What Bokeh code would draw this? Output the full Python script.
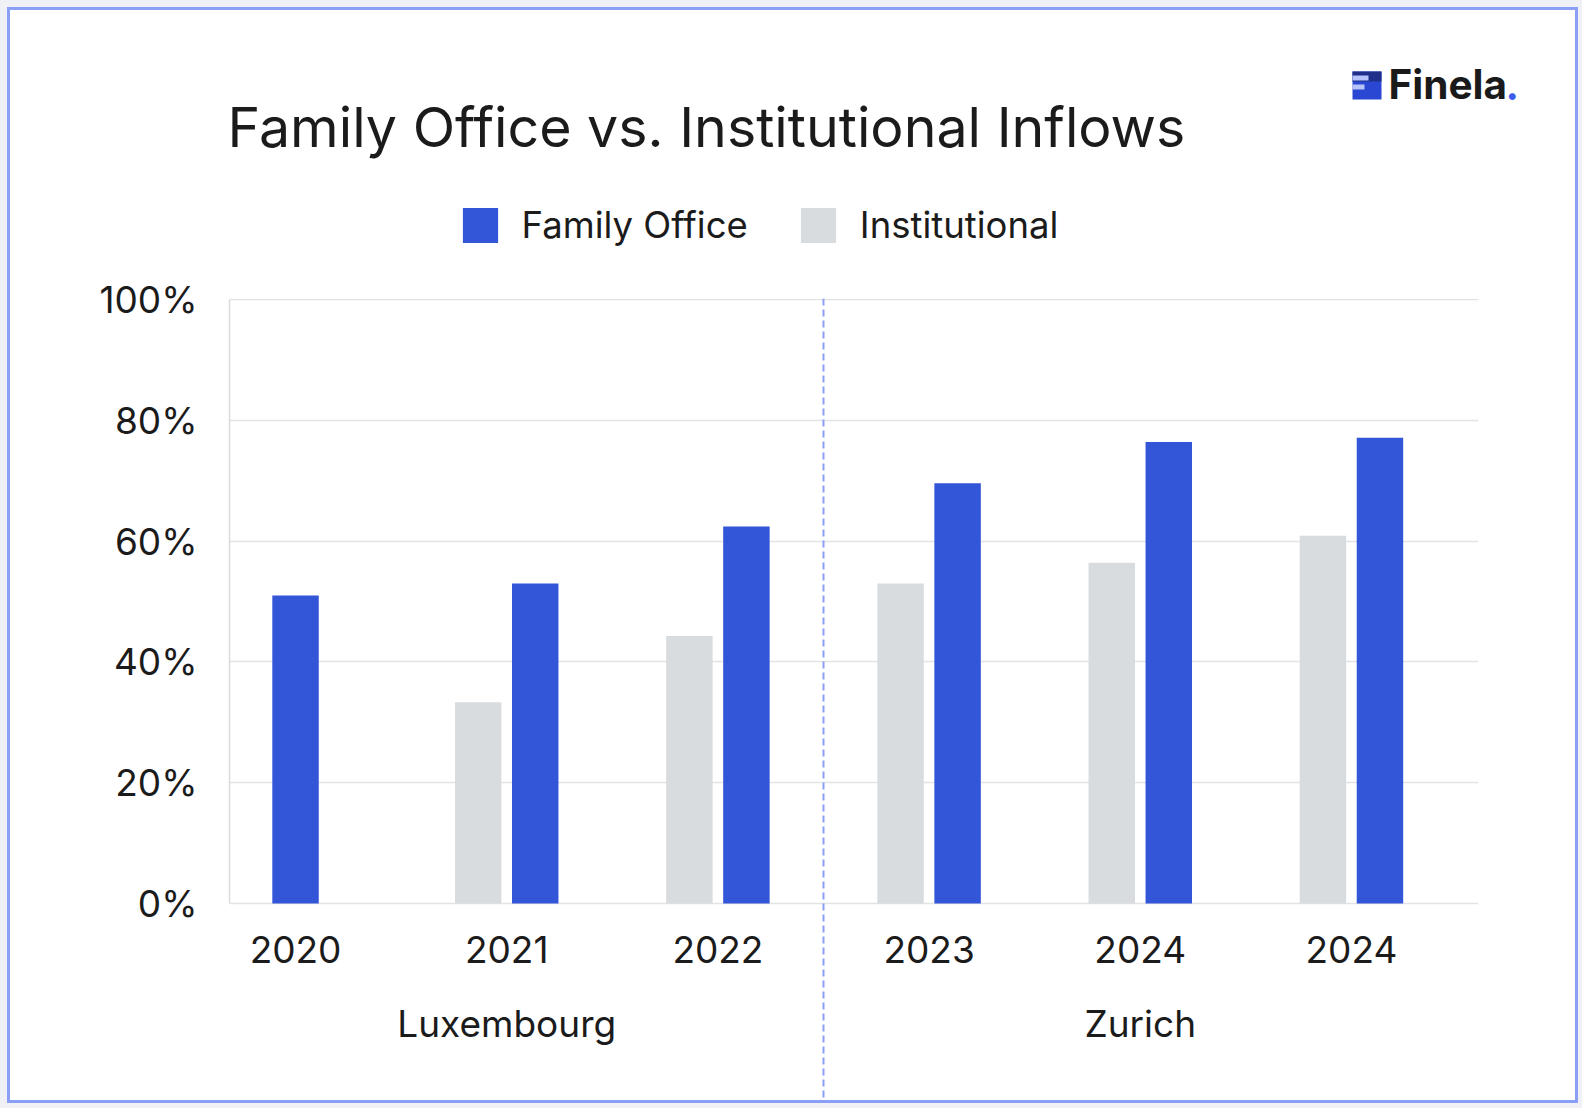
from bokeh.plotting import figure
from bokeh.layouts import column
from bokeh.models import (Range1d, FixedTicker, LinearAxis, PrintfTickFormatter, Span,
                          Legend, LegendItem, Label, BoxAnnotation, Grid, ColumnDataSource)
from bokeh.embed import file_html
from bokeh.resources import INLINE

# ---------------- data ----------------
years = ["2020", "2021", "2022", "2023", "2024", "2024"]
cities = ["Luxembourg", "Luxembourg", "Luxembourg", "Zurich", "Zurich", "Zurich"]
family_office = [51.0, 53.0, 62.4, 69.6, 76.4, 77.1]
institutional = [None, 33.3, 44.3, 53.0, 56.4, 60.9]
y_ticks = [0, 20, 40, 60, 80, 100]
series_names = ["Family Office", "Institutional"]
title_text = "Family Office vs. Institutional Inflows"
brand = "Finela"

# ---------------- style ----------------
FONT = "Inter"
TXT = "#1b1b1b"
BLUE = "#3355d7"
GREY = "#d9dcdf"
GRID = "#e2e3e5"
ACCENT = "#8c9ff6"
PAGE_BG = "#f0f1f6"

W = 1565
H_HEAD = 258
H_MAIN = 832

# ---------------- header (title, legend, logo) ----------------
head = figure(width=W, height=H_HEAD, output_backend="svg", toolbar_location=None,
              x_range=Range1d(0, W), y_range=Range1d(0, H_HEAD),
              x_axis_type=None, y_axis_type=None, frame_align=False,
              min_border_left=0, min_border_right=0, min_border_top=0, min_border_bottom=0)
head.outline_line_color = None
head.grid.visible = False
head.background_fill_color = "white"
head.border_fill_color = "white"

head.add_layout(Label(x=217, y=142, text=title_text, text_font=FONT, text_font_size="55.5px",
                      text_color=TXT, text_baseline="alphabetic"))

# legend keys (zero-height bars that only serve the legend)
key_src = ColumnDataSource(data=dict(x=[0], top=[0]))
k_fo = head.vbar(x="x", top="top", bottom=0, width=0, source=key_src, fill_color=BLUE, line_color=None)
k_inst = head.vbar(x="x", top="top", bottom=0, width=0, source=key_src, fill_color=GREY, line_color=None)
legend = Legend(items=[LegendItem(label=series_names[0], renderers=[k_fo]),
                       LegendItem(label=series_names[1], renderers=[k_inst])],
                location=(447.6, 21.4), orientation="horizontal",
                glyph_width=44, glyph_height=44, label_standoff=20, spacing=48,
                padding=0, margin=0, border_line_color=None, background_fill_alpha=0,
                label_text_font=FONT, label_text_font_size="36.5px", label_text_color=TXT)
head.add_layout(legend, "center")

# logo
head.add_layout(BoxAnnotation(left=1342, right=1371, top=197, bottom=169,
                              fill_color="#2a47d4", fill_alpha=1, line_color=None))
head.add_layout(BoxAnnotation(left=1342, right=1371, top=197, bottom=187,
                              fill_color="#1f2f8a", fill_alpha=1, line_color=None))
head.add_layout(BoxAnnotation(left=1342, right=1358, top=193, bottom=188,
                              fill_color="#b7c3fb", fill_alpha=1, line_color=None))
head.add_layout(BoxAnnotation(left=1342, right=1354, top=184, bottom=179,
                              fill_color="#b7c3fb", fill_alpha=1, line_color=None))
head.add_layout(Label(x=1378, y=184, text=brand, text_font=FONT, text_font_style="bold",
                      text_font_size="40.5px", text_color="#1a1a1a", text_baseline="alphabetic"))
head.add_layout(Label(x=1495, y=184, text=".", text_font=FONT, text_font_style="bold",
                      text_font_size="40.5px", text_color="#3d5cf0", text_baseline="alphabetic"))

# ---------------- main chart ----------------
idx = list(range(len(years)))
off = 0.135
bw = 0.22

p = figure(width=W, height=H_MAIN, output_backend="svg", toolbar_location=None,
           x_range=Range1d(-0.3127, 5.6016), y_range=Range1d(-32.62, 100.17),
           x_axis_type=None, y_axis_type=None, frame_align=False,
           min_border_left=219, min_border_right=97, min_border_top=30, min_border_bottom=0)
p.outline_line_color = None
p.background_fill_color = "white"
p.border_fill_color = "white"

p.add_layout(Grid(dimension=1, ticker=FixedTicker(ticks=y_ticks), grid_line_color=GRID,
                  grid_line_width=1.5))

fo_x = [i + (off if institutional[i] is not None else 0) for i in idx]
inst_idx = [i for i in idx if institutional[i] is not None]
inst_x = [i - off for i in inst_idx]
inst_top = [institutional[i] for i in inst_idx]

p.vbar(x=inst_x, top=inst_top, bottom=0, width=bw, fill_color=GREY, line_color=None)
p.vbar(x=fo_x, top=family_office, bottom=0, width=bw, fill_color=BLUE, line_color=None)

first_zur = cities.index("Zurich")
boundary = (first_zur - 1 + first_zur) / 2
p.add_layout(Span(location=boundary, dimension="height", line_color=ACCENT,
                  line_width=2, line_dash="7 4"))

axis_common = dict(major_tick_line_color=None, minor_tick_line_color=None,
                   major_tick_out=0, major_tick_in=0, minor_tick_out=0,
                   major_label_text_font=FONT, major_label_text_font_size="37px",
                   major_label_text_color=TXT)

yaxis = LinearAxis(ticker=FixedTicker(ticks=y_ticks), formatter=PrintfTickFormatter(format="%d%%"),
                   bounds=(0, 100), axis_line_color="#dcdcde", axis_line_width=1.5,
                   major_label_standoff=32, **axis_common)
p.add_layout(yaxis, "left")

xaxis = LinearAxis(ticker=FixedTicker(ticks=idx),
                   major_label_overrides={i: y for i, y in zip(idx, years)},
                   fixed_location=0, axis_line_color=None,
                   major_label_standoff=33, **axis_common)
p.add_layout(xaxis, "below")

city_names = []
for c in cities:
    if c not in city_names:
        city_names.append(c)
city_pos = [sum(i for i in idx if cities[i] == c) / cities.count(c) for c in city_names]
caxis = LinearAxis(ticker=FixedTicker(ticks=city_pos),
                   major_label_overrides={pos: c for pos, c in zip(city_pos, city_names)},
                   fixed_location=0, axis_line_color=None,
                   major_label_standoff=98, **axis_common)
p.add_layout(caxis, "below")

card = column(head, p, spacing=0,
              styles={"border": "3px solid " + ACCENT, "background-color": "white"})
page = column(card, spacing=0,
              styles={"background-color": PAGE_BG, "padding": "7px 11px 11px 7px"})

open("out.html", "w").write(file_html(page, INLINE))
